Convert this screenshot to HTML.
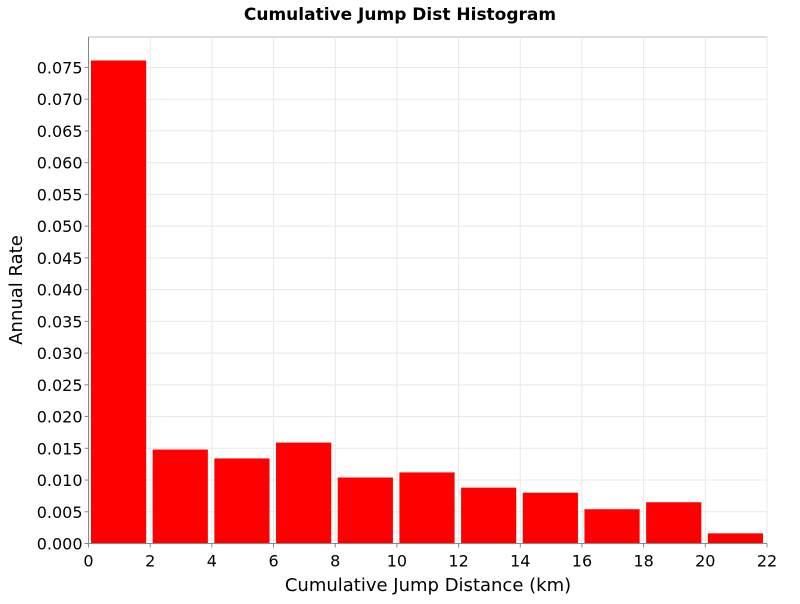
<!DOCTYPE html>
<html><head><meta charset="utf-8"><style>
body{margin:0;background:#fff;font-family:"DejaVu Sans","Liberation Sans",sans-serif;}
svg text{font-family:"DejaVu Sans","Liberation Sans",sans-serif;}
</style></head><body>
<svg id="chart" width="800" height="600" xmlns="http://www.w3.org/2000/svg">
<rect width="800" height="600" fill="#fff"/>
<text x="400" y="20" text-anchor="middle" font-size="17" font-weight="bold">Cumulative Jump Dist Histogram</text>
<g id="grid"></g>
<g id="bars"></g>
<g id="axes"></g>
<text x="428" y="591" text-anchor="middle" font-size="18">Cumulative Jump Distance (km)</text>
<text transform="translate(22,290) rotate(-90)" text-anchor="middle" font-size="18">Annual Rate</text>
</svg>
<script>
const binStarts=[0,2,4,6,8,10,12,14,16,18,20];
const rates=[0.0761,0.0148,0.0134,0.0159,0.0104,0.0112,0.0088,0.0080,0.0054,0.0065,0.0016];
const xTicks=[0,2,4,6,8,10,12,14,16,18,20,22];
const yTicks=[0,0.005,0.01,0.015,0.02,0.025,0.03,0.035,0.04,0.045,0.05,0.055,0.06,0.065,0.07,0.075];
const binWidth=2;
const L=88.5,R=767,T=37,B=543.5;
const xMin=0,xMax=22,yMin=0,yMax=0.0798;
const xs=v=>L+(v-xMin)/(xMax-xMin)*(R-L);
const ys=v=>B-(v-yMin)/(yMax-yMin)*(B-T);
const NS="http://www.w3.org/2000/svg";
function mk(tag,attrs,parent){const e=document.createElementNS(NS,tag);for(const k in attrs)e.setAttribute(k,attrs[k]);parent.appendChild(e);return e;}
const grid=document.getElementById('grid'),bars=document.getElementById('bars'),axes=document.getElementById('axes');
mk('rect',{x:L,y:T,width:R-L,height:B-T,fill:'#fff',stroke:'#bbb','stroke-width':1},grid);
xTicks.forEach(t=>{
  const gl=mk('line',{x1:xs(t),x2:xs(t),y1:T,y2:B,stroke:'#e8e8e8'},grid);
  
  
  const tk=mk('line',{x1:xs(t),x2:xs(t),y1:B,y2:B+4,stroke:'#888'},axes);
  
  
  const tx=mk('text',{x:xs(t),y:B+23,'text-anchor':'middle','font-size':16},axes);
  tx.textContent=t;
  
  
});
yTicks.forEach(t=>{
  const gl=mk('line',{x1:L,x2:R,y1:ys(t),y2:ys(t),stroke:'#e8e8e8'},grid);
  
  
  const tk=mk('line',{x1:L-4,x2:L,y1:ys(t),y2:ys(t),stroke:'#888'},axes);
  
  
  const tx=mk('text',{x:L-6,y:ys(t)+6,'text-anchor':'end','font-size':16},axes);
  tx.textContent=t.toFixed(3);
  
  
});
binStarts.forEach((s,i)=>{
  const x0=xs(s),x1=xs(s+binWidth),w=x1-x0;
  const r=mk('rect',{x:x0+2.5,y:ys(rates[i]),width:w-6.5,height:B-ys(rates[i]),fill:'#ff0000'},bars);
  
  
});
const xa=mk('line',{x1:L,x2:R,y1:B,y2:B,stroke:'#888'},axes);


const ya=mk('line',{x1:L,x2:L,y1:T,y2:B,stroke:'#888'},axes);


</script>
</body></html>
